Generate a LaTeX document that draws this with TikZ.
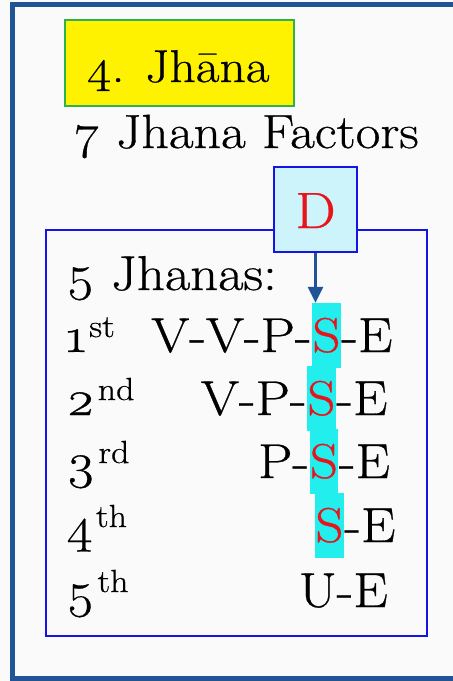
\documentclass[tikz,border=0pt]{standalone}
\usepackage{fontspec}
\setmainfont{Latin Modern Roman}[Numbers=OldStyle, FakeStretch=1.12, FakeBold=0.6]
\usetikzlibrary{arrows.meta}
\definecolor{frameblue}{HTML}{1F5597}
\definecolor{boxblue}{HTML}{1414E6}
\definecolor{paleCyan}{HTML}{CCF4FA}
\definecolor{hlcyan}{HTML}{22EEEE}
\definecolor{titlegreen}{HTML}{2DB34A}
\definecolor{sred}{HTML}{E8141C}
\definecolor{bgwhite}{HTML}{FAFAFA}
\newcommand{\ordn}[2]{#1\kern3pt\raisebox{15pt}{\fontsize{32}{32}\selectfont #2}}
\tikzset{
  lbl/.style={font=\fontsize{49}{49}\selectfont, inner sep=0pt, anchor=base west},
  shl/.style={fill=hlcyan, text=sred, font=\fontsize{49}{49}\selectfont,
    inner xsep=0pt, inner ysep=0pt, text height=49pt, text depth=16pt, anchor=base},
  arr/.style={frameblue, line width=3pt, -{Triangle[width=15pt,length=16pt]}}
}
\begin{document}
\begin{tikzpicture}[x=1pt,y=-1pt]
\useasboundingbox (0,0) rectangle (453,681);
\clip (0,0) rectangle (453,681);
\fill[bgwhite] (0,0) rectangle (453,681);
\draw[frameblue, line width=5pt] (12.5,4.5) rectangle (480,678.5);

\node[fill=yellow, draw=titlegreen, line width=2pt, minimum width=229pt, minimum height=86pt] (title) at (179.5,63) {};
\node[lbl, anchor=base, font=\fontsize{46}{46}\selectfont] (titletext) at (178,82) {4. Jhāna};
\node[lbl, anchor=base, font=\fontsize{48}{48}\selectfont] (factors) at (246.5,148) {7 Jhana Factors};

\node[draw=boxblue, line width=2.5pt, minimum width=381pt, minimum height=406pt] (main) at (236.5,433) {};
\node[draw=boxblue, line width=2pt, fill=paleCyan, minimum width=83pt, minimum height=85pt] (D) at (315.5,209.5) {};
\node[inner sep=0pt, anchor=base, text=sred, font=\fontsize{51}{51}\selectfont] (Dtext) at (315.5,228) {D};

\node[lbl] (head) at (66,290) {5 Jhanas:};

% row 1
\node[lbl] (o1) at (66,352) {\ordn{1}{st}};
\node[shl] (s1) at (326.5,352) {S};
\node[lbl, anchor=base east] (l1) at ([xshift=-0.5pt]s1.base west) {V-V-P-};
\node[lbl] (r1) at ([xshift=0.5pt]s1.base east) {-E};
% row 2
\node[lbl] (o2) at (66,415) {\ordn{2}{nd}};
\node[shl] (s2) at (321.5,415) {S};
\node[lbl, anchor=base east] (l2) at ([xshift=-0.5pt]s2.base west) {V-P-};
\node[lbl] (r2) at ([xshift=0.5pt]s2.base east) {-E};
% row 3
\node[lbl] (o3) at (66,478) {\ordn{3}{rd}};
\node[shl] (s3) at (324,478) {S};
\node[lbl, anchor=base east] (l3) at ([xshift=-0.5pt]s3.base west) {P-};
\node[lbl] (r3) at ([xshift=0.5pt]s3.base east) {-E};
% row 4
\node[lbl] (o4) at (66,542) {\ordn{4}{th}};
\node[shl] (s4) at (329.5,542) {S};
\node[lbl] (r4) at ([xshift=0.5pt]s4.base east) {-E};
% row 5
\node[lbl] (o5) at (66,607) {\ordn{5}{th}};
\node[lbl, anchor=base east] (u5) at (388,607) {U-E};

\draw[arr] (D.south) -- (D.south |- s1.north);
\end{tikzpicture}
\end{document}
